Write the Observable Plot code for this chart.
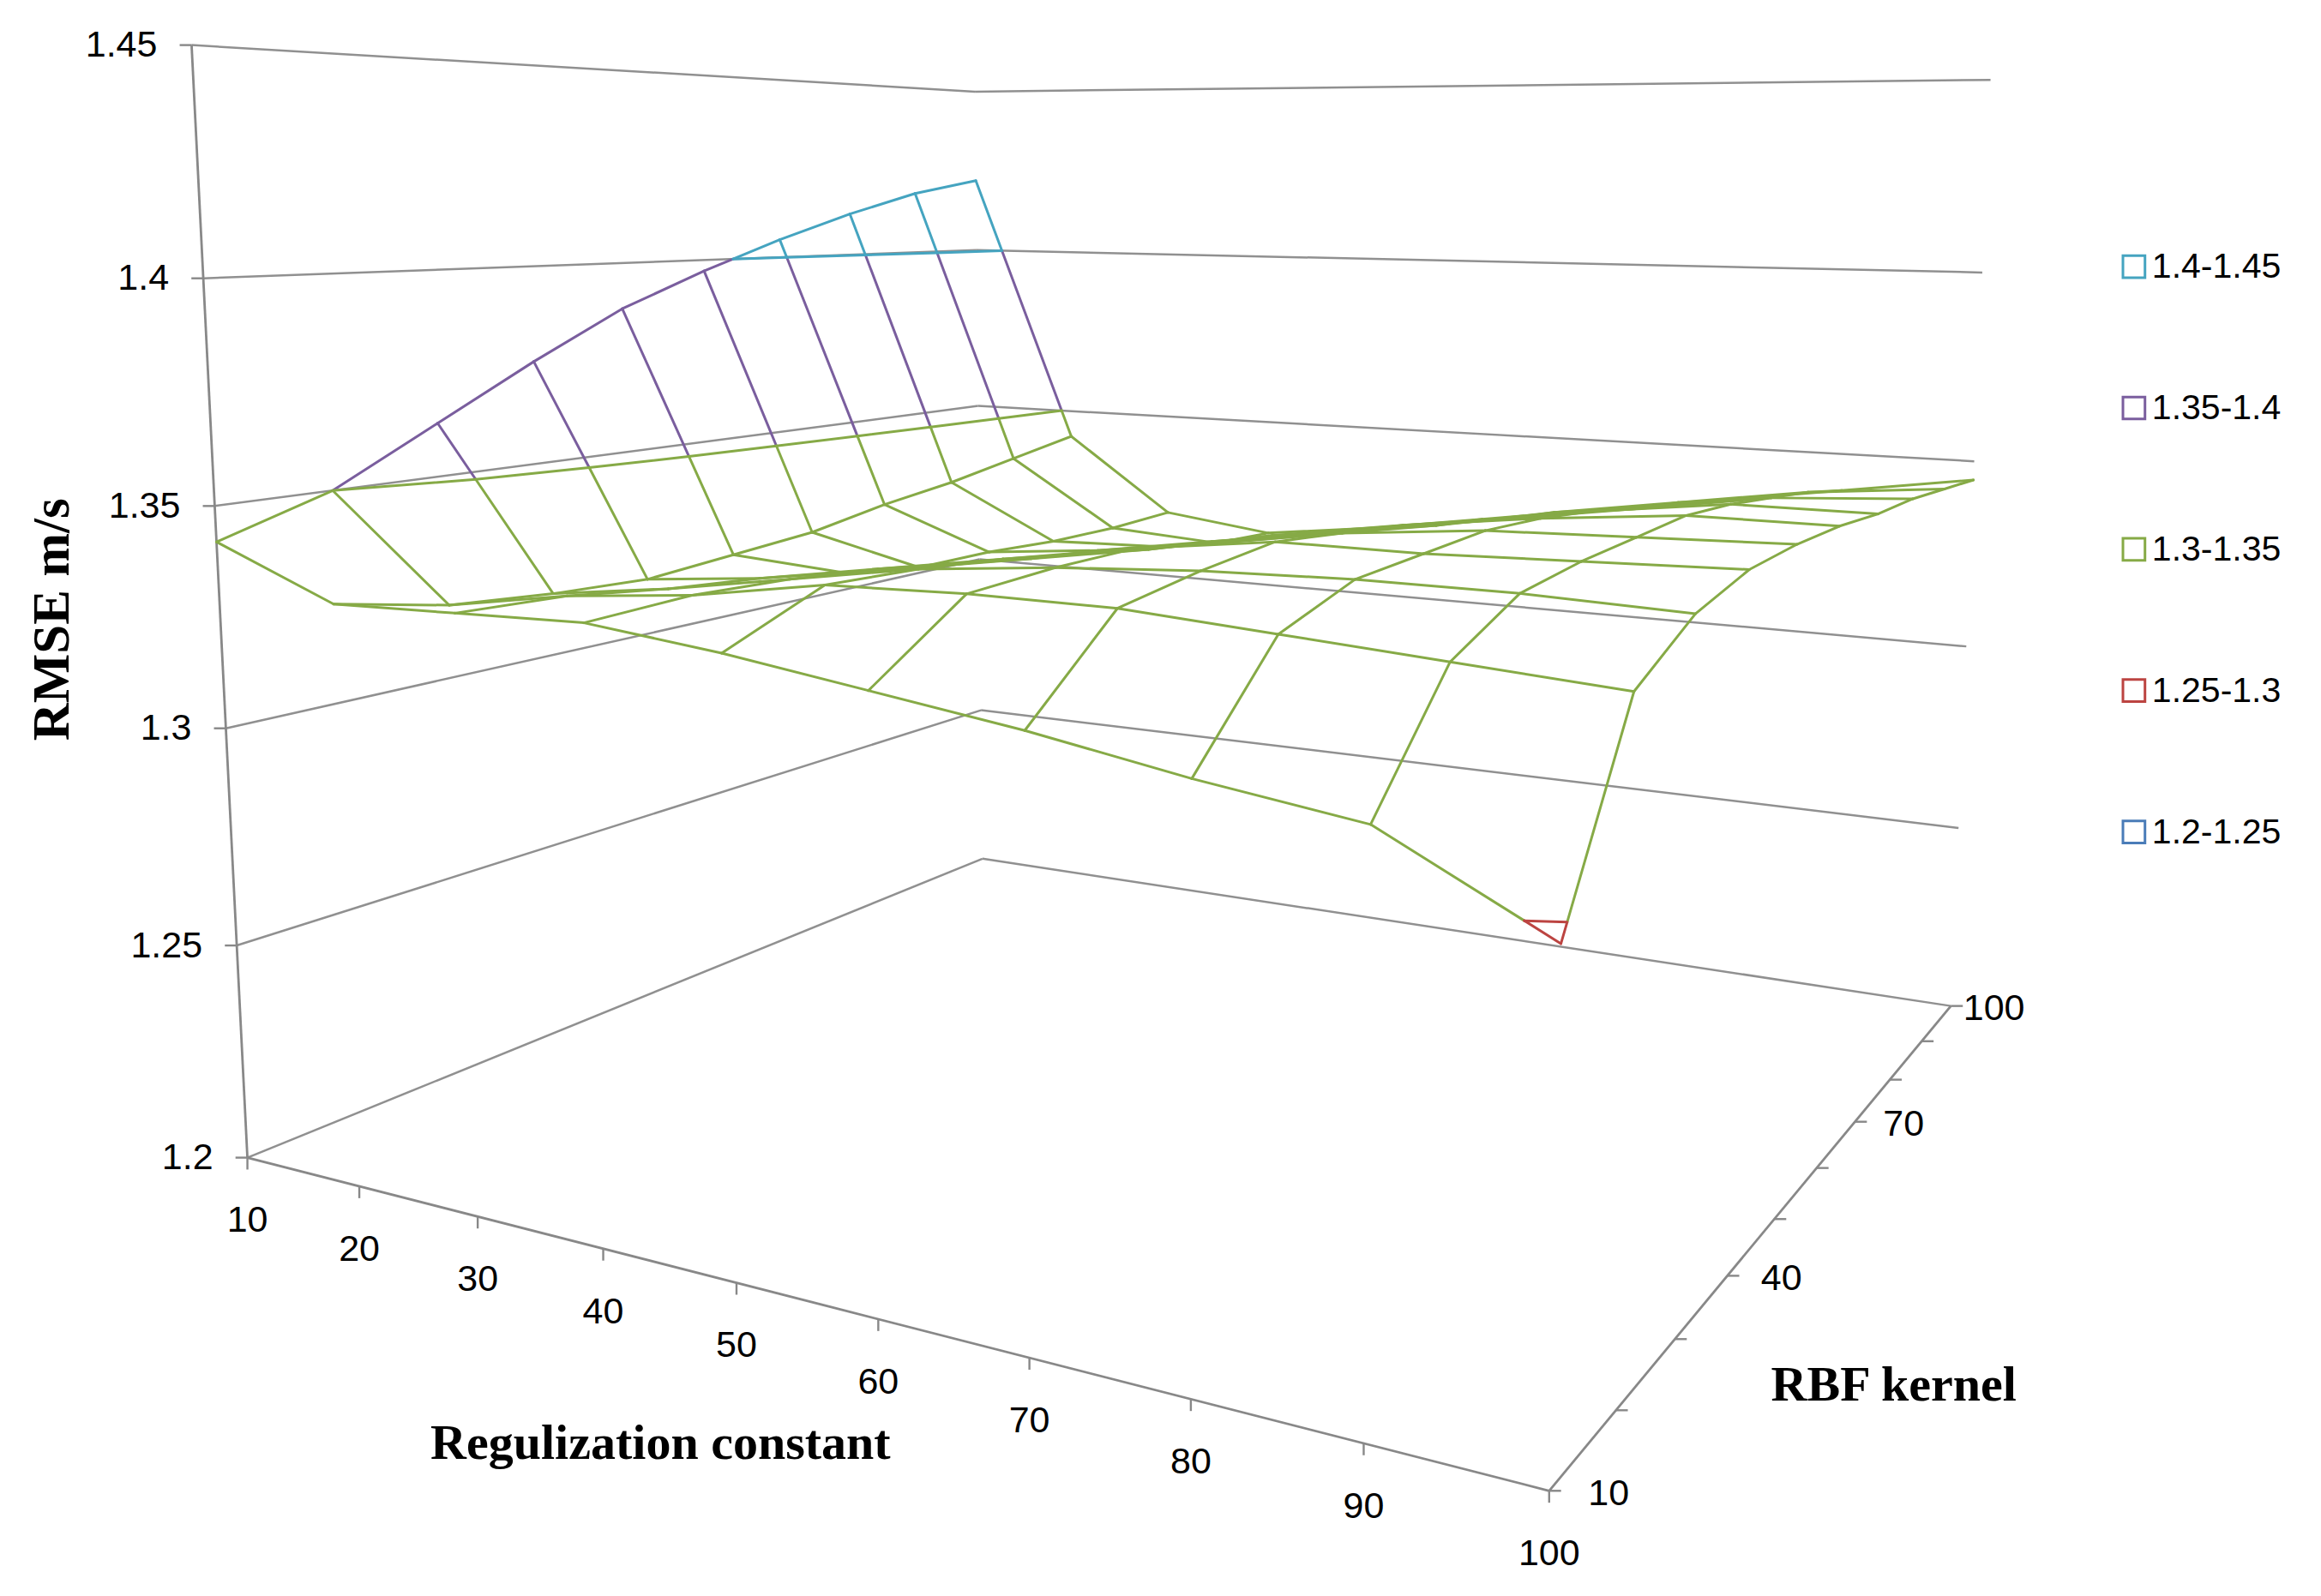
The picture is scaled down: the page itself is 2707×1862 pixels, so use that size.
<!DOCTYPE html>
<html>
<head>
<meta charset="utf-8">
<script src="https://cdn.jsdelivr.net/npm/d3@7"></script>
<script src="https://cdn.jsdelivr.net/npm/@observablehq/plot@0.6"></script>
<style>
  html, body { margin: 0; padding: 0; background: #ffffff; overflow: hidden; }
  #chart svg { display: block; }
</style>
</head>
<body>
<div id="chart"></div>
<script>
// ---------------- data ----------------
const regConstants = [10, 20, 30, 40, 50, 60, 70, 80, 90, 100];
const rbfKernels   = [10, 20, 30, 40, 50, 60, 70, 80, 90, 100];
const rbfLabelled  = [10, 40, 70, 100];
const rmseTicks    = [1.2, 1.25, 1.3, 1.35, 1.4, 1.45];

// RMSE (m/s) per RBF kernel value, listed along the regularization constants 10..100
const rmse_rbf10  = [1.342, 1.331, 1.332, 1.333, 1.330, 1.326, 1.322, 1.317, 1.313, 1.297];
const rmse_rbf20  = [1.350, 1.326, 1.331, 1.334, 1.339, 1.340, 1.340, 1.338, 1.336, 1.334];
const rmse_rbf30  = [1.363, 1.324, 1.328, 1.333, 1.338, 1.341, 1.343, 1.344, 1.344, 1.343];
const rmse_rbf40  = [1.376, 1.323, 1.326, 1.331, 1.336, 1.341, 1.345, 1.345, 1.346, 1.347];
const rmse_rbf50  = [1.388, 1.325, 1.323, 1.328, 1.333, 1.338, 1.343, 1.346, 1.347, 1.348];
const rmse_rbf60  = [1.397, 1.327, 1.320, 1.325, 1.330, 1.336, 1.341, 1.345, 1.348, 1.348];
const rmse_rbf70  = [1.405, 1.331, 1.320, 1.323, 1.328, 1.333, 1.338, 1.343, 1.347, 1.347];
const rmse_rbf80  = [1.412, 1.334, 1.319, 1.320, 1.325, 1.330, 1.335, 1.340, 1.345, 1.347];
const rmse_rbf90  = [1.418, 1.338, 1.319, 1.317, 1.322, 1.327, 1.333, 1.338, 1.343, 1.346];
const rmse_rbf100 = [1.422, 1.342, 1.320, 1.316, 1.320, 1.325, 1.330, 1.335, 1.340, 1.345];

const bandNames  = ["1.4-1.45", "1.35-1.4", "1.3-1.35", "1.25-1.3", "1.2-1.25"];
const bandLows   = [1.4, 1.35, 1.3, 1.25, 1.2];
const bandColors = ["#45A4C0", "#7A5E9E", "#86AA46", "#BC4441", "#4A7CB8"];

// ---------------- 3D view (perspective camera of the reference) ----------------
// maps unit cube (u: regularization, v: RBF kernel, t: RMSE) to the reference frame units
const camera = [
  [617.1, 789.0, -44.9, 166.0],
  [-24.2,  56.9, -749.7, 778.0],
  [-0.2477, 0.4469, -0.05744, 1.0]
];
const zMin = rmseTicks[0], zMax = rmseTicks[rmseTicks.length - 1];
function project(u, v, z) {
  const t = (z - zMin) / (zMax - zMin);
  const [a, b, c] = camera;
  const X = a[0] * u + a[1] * v + a[2] * t + a[3];
  const Y = b[0] * u + b[1] * v + b[2] * t + b[3];
  const Wt = c[0] * u + c[1] * v + c[2] * t + c[3];
  return [X / Wt, Y / Wt];
}
const nX = regConstants.length, nY = rbfKernels.length;
const uAt = i => i / (nX - 1);
const vAt = j => j / (nY - 1);

const grid = [rmse_rbf10, rmse_rbf20, rmse_rbf30, rmse_rbf40, rmse_rbf50,
              rmse_rbf60, rmse_rbf70, rmse_rbf80, rmse_rbf90, rmse_rbf100];

function bandColor(z) {
  for (let k = 0; k < bandLows.length; k++) if (z >= bandLows[k]) return bandColors[k];
  return bandColors[bandColors.length - 1];
}
const levels = [1.25, 1.3, 1.35, 1.4];
const contourColor = {1.25: bandColors[4], 1.3: bandColors[3], 1.35: bandColors[2], 1.4: bandColors[0]};

function seg(p, q, color) {
  const a = project(p.u, p.v, p.z), b = project(q.u, q.v, q.z);
  return {x1: a[0], y1: a[1], x2: b[0], y2: b[1], color};
}
function lerp(p, q, s) {
  return {u: p.u + (q.u - p.u) * s, v: p.v + (q.v - p.v) * s, z: p.z + (q.z - p.z) * s};
}

// wire edges, split where they cross the band limits
const wire = [];
function addEdge(p, q) {
  const cuts = levels.filter(L => (L - p.z) * (L - q.z) < 0)
                     .map(L => (L - p.z) / (q.z - p.z)).sort((a, b) => a - b);
  const s = [0, ...cuts, 1];
  for (let k = 0; k < s.length - 1; k++) {
    const zm = p.z + (q.z - p.z) * (s[k] + s[k + 1]) / 2;
    wire.push(seg(lerp(p, q, s[k]), lerp(p, q, s[k + 1]), bandColor(zm)));
  }
}
const node = (i, j) => ({u: uAt(i), v: vAt(j), z: grid[j][i]});
for (let j = 0; j < nY; j++) for (let i = 0; i < nX - 1; i++) addEdge(node(i, j), node(i + 1, j));
for (let i = 0; i < nX; i++) for (let j = 0; j < nY - 1; j++) addEdge(node(i, j), node(i, j + 1));

// band boundary lines inside each cell
const contours = [];
for (let j = 0; j < nY - 1; j++) for (let i = 0; i < nX - 1; i++) {
  const c = [node(i, j), node(i + 1, j), node(i + 1, j + 1), node(i, j + 1)];
  for (const L of levels) {
    const pts = [];
    for (let e = 0; e < 4; e++) {
      const p = c[e], q = c[(e + 1) % 4];
      if ((p.z < L) !== (q.z < L) && p.z !== q.z) pts.push(lerp(p, q, (L - p.z) / (q.z - p.z)));
    }
    for (let k = 0; k + 1 < pts.length; k += 2) contours.push(seg(pts[k], pts[k + 1], contourColor[L]));
  }
}

// walls gridlines (left wall + back wall) and axes
const gridLines = [];
for (const z of rmseTicks) {
  gridLines.push(seg({u: 0, v: 0, z}, {u: 0, v: 1, z}));
  gridLines.push(seg({u: 0, v: 1, z}, {u: 1, v: 1, z}));
}
const axisLines = [
  seg({u: 0, v: 0, z: zMin}, {u: 0, v: 0, z: zMax}),
  seg({u: 0, v: 0, z: zMin}, {u: 1, v: 0, z: zMin}),
  seg({u: 1, v: 0, z: zMin}, {u: 1, v: 1, z: zMin})
];
const tickLen = 8;
const zTicks = rmseTicks.map(z => { const p = project(0, 0, z); return {x1: p[0] - tickLen, y1: p[1], x2: p[0], y2: p[1], z}; });
const xTicks = regConstants.map((r, i) => { const p = project(uAt(i), 0, zMin); return {x1: p[0], y1: p[1], x2: p[0], y2: p[1] + tickLen, r}; });
const yTicks = rbfKernels.map((r, j) => { const p = project(1, vAt(j), zMin); return {x1: p[0], y1: p[1], x2: p[0] + tickLen, y2: p[1], r}; });

const zLabels = rmseTicks.map(z => { const p = project(0, 0, z); return {x: p[0], y: p[1], text: String(z)}; });
const xLabels = regConstants.map((r, i) => { const p = project(uAt(i), 0, zMin); return {x: p[0], y: p[1], text: String(r)}; });
// depth labels sit a little right of their tick, the gap shrinking with distance
const yLabels = rbfLabelled.map(r => { const v = vAt(rbfKernels.indexOf(r)); const p = project(1, v, zMin); return {x: p[0] + 40 - 11 * v, y: p[1], text: String(r)}; });

const xMid = project(0.5, 0, zMin), yMid = project(1, 0.5, zMin), zMid = project(0, 0, (zMin + zMax) / 2);

// legend layout (frame units)
const legendX = 1434, legendTop = 179, legendStep = 95;
const legend = bandNames.map((name, k) => ({name, color: bandColors[k], k}));

const gray = "#909090";
const tickFont = "'Liberation Sans', Arial, sans-serif";
const titleFont = "'Liberation Serif', 'Times New Roman', serif";

const chart = Plot.plot({
  width: 2707, height: 1862, margin: 0,
  x: {type: "linear", domain: [0, 1560], range: [0, 2707], axis: null},
  y: {type: "linear", domain: [0, 1073], range: [0, 1862], axis: null},
  color: {type: "identity"},
  style: {fontFamily: tickFont, background: "#ffffff", color: "#000"},
  marks: [
    Plot.link(gridLines, {x1: "x1", y1: "y1", x2: "x2", y2: "y2", stroke: gray, strokeWidth: 2.5}),
    Plot.link(axisLines, {x1: "x1", y1: "y1", x2: "x2", y2: "y2", stroke: "#888888", strokeWidth: 2.8}),
    Plot.link(zTicks, {x1: "x1", y1: "y1", x2: "x2", y2: "y2", stroke: "#888888", strokeWidth: 2.4}),
    Plot.link(xTicks, {x1: "x1", y1: "y1", x2: "x2", y2: "y2", stroke: "#888888", strokeWidth: 2.4}),
    Plot.link(yTicks, {x1: "x1", y1: "y1", x2: "x2", y2: "y2", stroke: "#888888", strokeWidth: 2.4}),
    Plot.link(wire, {x1: "x1", y1: "y1", x2: "x2", y2: "y2", stroke: "color", strokeWidth: 3, strokeLinecap: "round"}),
    Plot.link(contours, {x1: "x1", y1: "y1", x2: "x2", y2: "y2", stroke: "color", strokeWidth: 3, strokeLinecap: "round"}),
    Plot.text(zLabels, {x: "x", y: "y", text: "text", textAnchor: "end", lineAnchor: "middle", dx: -40, fontSize: 43, fill: "#000"}),
    Plot.text(xLabels, {x: "x", y: "y", text: "text", textAnchor: "middle", lineAnchor: "middle", dy: 73, fontSize: 43, fill: "#000"}),
    Plot.text(yLabels, {x: "x", y: "y", text: "text", textAnchor: "middle", lineAnchor: "middle", dy: 3, fontSize: 43, fill: "#000"}),
    Plot.text([{x: xMid[0], y: xMid[1]}], {x: "x", y: "y", text: () => "Regulization constant", dx: -170, dy: 166, textAnchor: "middle", lineAnchor: "middle", fontSize: 58, fontWeight: "bold", fontFamily: titleFont, fill: "#000"}),
    Plot.text([{x: yMid[0], y: yMid[1]}], {x: "x", y: "y", text: () => "RBF kernel", dx: 114, dy: 224, textAnchor: "middle", lineAnchor: "middle", fontSize: 58, fontWeight: "bold", fontFamily: titleFont, fill: "#000"}),
    Plot.text([{x: zMid[0], y: zMid[1]}], {x: "x", y: "y", text: () => "RMSE m/s", dx: -196, dy: 2, rotate: -90, textAnchor: "middle", lineAnchor: "middle", fontSize: 61, fontWeight: "bold", fontFamily: titleFont, fill: "#000"}),
    Plot.dot(legend, {x: () => legendX, y: d => legendTop + d.k * legendStep, symbol: "square", r: 14.5, stroke: "color", fill: "#ffffff", strokeWidth: 3}),
    Plot.text(legend, {x: () => legendX, y: d => legendTop + d.k * legendStep, text: "name", dx: 21, textAnchor: "start", lineAnchor: "middle", fontSize: 41, fill: "#000"})
  ]
});
document.getElementById("chart").appendChild(chart);
</script>
</body>
</html>
